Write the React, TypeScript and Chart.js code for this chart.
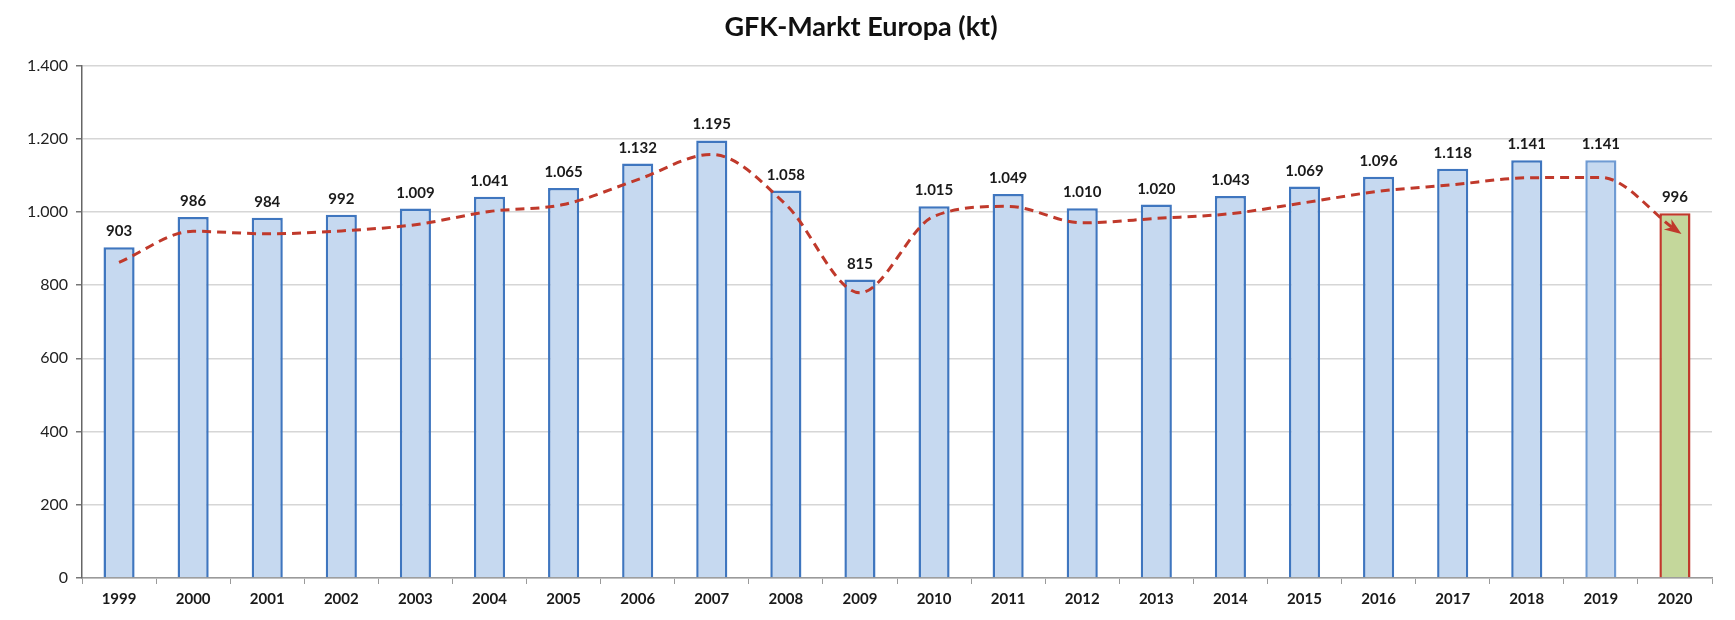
import React, { useEffect, useRef } from 'react';
import { Chart, registerables } from 'chart.js';

Chart.register(...registerables);

// GfK market Europe, kilotonnes per year
const years = [
  '1999', '2000', '2001', '2002', '2003', '2004', '2005', '2006', '2007', '2008', '2009',
  '2010', '2011', '2012', '2013', '2014', '2015', '2016', '2017', '2018', '2019', '2020',
];
const marketKt = [
  903, 986, 984, 992, 1009, 1041, 1065, 1132, 1195, 1058, 815,
  1015, 1049, 1010, 1020, 1043, 1069, 1096, 1118, 1141, 1141, 996,
];
// dashed trend line
const trendKt = [
  862, 947, 940, 948, 965, 1001, 1020, 1088, 1157, 1020, 779,
  988, 1015, 970, 982, 995, 1025, 1056, 1074, 1093, 1094, 952,
];
const yTicks = [0, 200, 400, 600, 800, 1000, 1200, 1400];

const FONT = 'Lato, "Open Sans", sans-serif';

// German thousands separator: 1195 -> "1.195"
const fmt = (v: number): string =>
  v >= 1000 ? Math.floor(v / 1000) + '.' + String(v % 1000).padStart(3, '0') : String(v);

const valueLabels = {
  id: 'valueLabels',
  afterDatasetsDraw(chart: any) {
    const meta = chart.getDatasetMeta(0);
    const ctx = chart.ctx;
    ctx.save();
    ctx.font = `bold 15px ${FONT}`;
    ctx.fillStyle = '#1a1a1a';
    ctx.textAlign = 'center';
    ctx.textBaseline = 'alphabetic';
    meta.data.forEach((bar: any, i: number) => {
      ctx.fillText(fmt(marketKt[i]), bar.x, bar.y - 11);
    });
    ctx.restore();
  },
};

const trendArrow = {
  id: 'trendArrow',
  afterDatasetsDraw(chart: any) {
    const meta = chart.getDatasetMeta(1);
    const pts = meta.data;
    if (!pts.length) return;
    const last = pts[pts.length - 1];
    const prev = pts[pts.length - 2];
    const fromX = last.cp1x ?? prev.x;
    const fromY = last.cp1y ?? prev.y;
    const ang = Math.atan2(last.y - fromY, last.x - fromX);
    const tipX = last.x + Math.cos(ang) * 8;
    const tipY = last.y + Math.sin(ang) * 8;
    const len = 17;
    const half = 6.5;
    const ctx = chart.ctx;
    ctx.save();
    ctx.fillStyle = '#c0392b';
    ctx.beginPath();
    ctx.moveTo(tipX, tipY);
    ctx.lineTo(
      tipX - len * Math.cos(ang) + half * Math.sin(ang),
      tipY - len * Math.sin(ang) - half * Math.cos(ang)
    );
    ctx.lineTo(
      tipX - len * 0.7 * Math.cos(ang),
      tipY - len * 0.7 * Math.sin(ang)
    );
    ctx.lineTo(
      tipX - len * Math.cos(ang) - half * Math.sin(ang),
      tipY - len * Math.sin(ang) + half * Math.cos(ang)
    );
    ctx.closePath();
    ctx.fill();
    ctx.restore();
  },
};

const App: React.FC = () => {
  const canvasRef = useRef<HTMLCanvasElement>(null);

  useEffect(() => {
    document.body.style.margin = '0';
    if (!canvasRef.current) return;
    const ctx = canvasRef.current.getContext('2d');
    if (!ctx) return;

    const last = years.length - 1;

    const chart = new Chart(ctx, {
      type: 'bar',
      data: {
        labels: years,
        datasets: [
          {
            type: 'bar',
            label: 'GFK-Markt Europa',
            data: marketKt,
            backgroundColor: years.map((_, i) => (i === last ? '#c4d79b' : '#c6d9f0')),
            borderColor: years.map((_, i) =>
              i === last ? '#c0392b' : i === last - 1 ? '#6f9bd3' : '#3f76bf'
            ),
            borderWidth: 2.5,
            categoryPercentage: 1,
            barPercentage: 0.42,
            order: 1,
          },
          {
            type: 'line',
            label: 'Trend',
            data: trendKt,
            borderColor: '#c0392b',
            borderWidth: 3,
            borderDash: [9, 6],
            pointRadius: 0,
            cubicInterpolationMode: 'monotone',
            fill: false,
            order: 0,
          },
        ] as any,
      },
      options: {
        responsive: false,
        animation: false,
        layout: { padding: { left: 10, right: 23, top: 0, bottom: 0 } },
        plugins: {
          legend: { display: false },
          tooltip: { enabled: false },
          title: {
            display: true,
            text: 'GFK-Markt Europa (kt)',
            color: '#111',
            font: { family: FONT, size: 27, weight: 'bold' },
            padding: { top: 11, bottom: 22 },
          },
        },
        scales: {
          x: {
            grid: {
              drawOnChartArea: false,
              drawTicks: true,
              tickLength: 6,
              color: '#9a9a9a',
              offset: true,
            },
            border: { color: '#9a9a9a', width: 1.5 },
            ticks: {
              color: '#1a1a1a',
              padding: 6,
              maxRotation: 0,
              font: { family: FONT, size: 15, weight: 'bold' },
            },
            afterFit: (scale: any) => {
              scale.height = 42;
            },
          },
          y: {
            min: 0,
            max: 1400,
            afterBuildTicks: (scale: any) => {
              scale.ticks = yTicks.map(v => ({ value: v }));
            },
            grid: {
              color: '#d6d6d6',
              lineWidth: 1.5,
              tickLength: 6,
              tickColor: '#777',
            },
            border: { color: '#666', width: 1.5 },
            ticks: {
              color: '#222',
              padding: 8,
              font: { family: FONT, size: 16 },
              callback: (v: any) => fmt(Number(v)),
            },
            afterFit: (scale: any) => {
              scale.width = 72;
            },
          },
        },
      },
      plugins: [valueLabels, trendArrow],
    });

    return () => chart.destroy();
  }, []);

  return (
    <div style={{ width: 1735, height: 620, background: '#fff' }}>
      <canvas ref={canvasRef} width={1735} height={620} />
    </div>
  );
};

export default App;
